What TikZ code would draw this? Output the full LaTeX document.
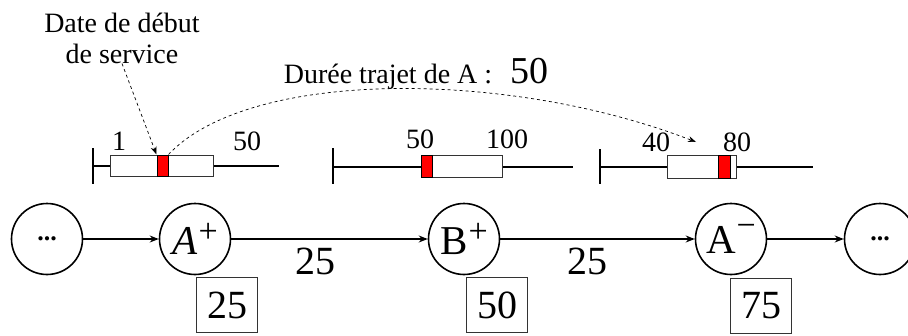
\documentclass[tikz,border=0pt]{standalone}
\usepackage{fontspec}
\setmainfont{Liberation Serif}
\usetikzlibrary{arrows.meta}
\tikzset{
  circ/.style={draw, circle, line width=1.6pt, minimum size=71pt, inner sep=0pt},
  arr/.style={-{Stealth[length=9pt,width=7pt]}, line width=1.1pt},
  valbox/.style={draw=black!80, line width=0.9pt, minimum width=61pt, minimum height=55pt, inner sep=0pt},
  tline/.style={line width=1.3pt},
  tbar/.style={line width=1.8pt},
  winbox/.style={draw=black!80, fill=white, line width=0.9pt},
  redbox/.style={draw=black, fill=red, line width=1pt},
  dasharr/.style={dashed, line width=0.7pt, -{Stealth[length=8pt,width=6pt]}},
  bignum/.style={font=\fontsize{40}{44}\selectfont, inner sep=0pt},
  tnum/.style={font=\fontsize{28}{32}\selectfont, inner sep=0pt, anchor=base},
  txt/.style={font=\fontsize{28}{33}\selectfont, inner sep=0pt},
  lbl/.style={font=\fontsize{41}{44}\selectfont},
  dotlbl/.style={font=\fontsize{26}{28}\selectfont\bfseries},
}
\newcommand{\supr}[2]{\kern1pt\raisebox{#1}{\fontsize{34}{36}\selectfont #2}}
\begin{document}
\begin{tikzpicture}[x=1pt,y=-1pt]
\useasboundingbox (0,0) rectangle (908,335);
\clip (0,0) rectangle (908,335);

% graph nodes
\node[circ, dotlbl] (n1) at (47,239) {\raisebox{-4pt}{...}};
\node[circ, lbl] (ap) at (195,239) {\textit{A}\supr{12pt}{+}};
\node[circ, lbl] (bp) at (464,239) {B\supr{12pt}{+}};
\node[circ, lbl] (am) at (731,239) {A\supr{17pt}{−}};
\node[circ, dotlbl] (n5) at (880,239) {\raisebox{-4pt}{...}};

\draw[arr] (n1) -- (ap);
\draw[arr] (ap) -- node[pos=0.43, below=8pt, bignum] (e1) {25} (bp);
\draw[arr] (bp) -- node[pos=0.45, below=8pt, bignum] (e2) {25} (am);
\draw[arr] (am) -- (n5);

\node[valbox, bignum] (v1) at (227,305) {25};
\node[valbox, bignum] (v2) at (497,305) {50};
\node[valbox, bignum] (v3) at (761,306) {75};

% timeline 1
\draw[tline] (93,166) -- (279,166);
\draw[tbar] (93,148) -- (93,184);
\draw[winbox] (110,155) rectangle (213,176);
\node[redbox, minimum width=11pt, minimum height=21pt, inner sep=0pt] (r1) at (162.5,165.5) {};
\node[tnum] (t1a) at (119,150) {1};
\node[tnum] (t1b) at (247,150) {50};

% timeline 2
\draw[tline] (333,167) -- (573,167);
\draw[tbar] (333,148) -- (333,184);
\draw[winbox] (421,155) rectangle (502,177);
\node[redbox, minimum width=11pt, minimum height=22pt, inner sep=0pt] (r2) at (426.5,166) {};
\node[tnum] (t2a) at (420,148) {50};
\node[tnum] (t2b) at (507,148) {100};

% timeline 3
\draw[tline] (600,167) -- (813,167);
\draw[tbar] (600,149) -- (600,184);
\draw[winbox] (667,155) rectangle (736,178);
\node[redbox, minimum width=12pt, minimum height=23pt, inner sep=0pt] (r3) at (724.5,166.5) {};
\node[tnum] (t3a) at (656,151) {40};
\node[tnum] (t3b) at (737,151) {80};

% texts
\node[txt, align=center] (ds) at (122,38) {Date de début\\[-2pt]de service};
\node[txt, anchor=base] (dur) at (388,83) {Durée trajet de A :};
\node[anchor=base, inner sep=0pt, font=\fontsize{38}{40}\selectfont] (d50) at (529,83) {50};

\coordinate (c2) at (696,142);
\draw[dasharr] (ds.south) -- (r1.north west);
\draw[dasharr] (r1.north east) .. controls (250,68) and (510,70) .. (c2);
\end{tikzpicture}
\end{document}
